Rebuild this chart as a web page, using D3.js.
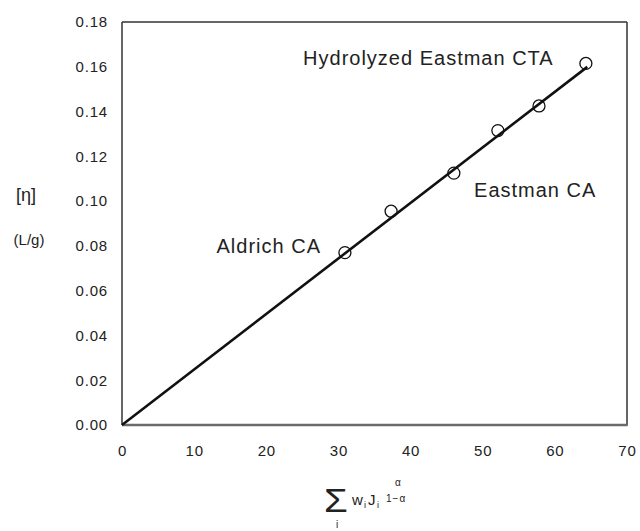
<!DOCTYPE html>
<html>
<head>
<meta charset="utf-8">
<script src="https://cdn.jsdelivr.net/npm/d3@7"></script>
<style>
  html, body { margin: 0; padding: 0; background: #fff; }
  svg { display: block; font-family: "Liberation Sans", Arial, sans-serif; }
</style>
</head>
<body>
<svg id="chart" width="640" height="531"></svg>
<script>
// ---- data ----
const sumWJ = [30.9, 37.3, 46.0, 52.1, 57.8, 64.3];
const intrinsicVisc = [0.077, 0.0955, 0.1125, 0.1315, 0.1425, 0.1615];
const fitSlope = 0.00248;
const fitXRange = [0, 64.5];
const xTicks = [0, 10, 20, 30, 40, 50, 60, 70];
const yTicks = [0, 0.02, 0.04, 0.06, 0.08, 0.10, 0.12, 0.14, 0.16, 0.18];
const labelTexts = ["Hydrolyzed Eastman CTA", "Eastman CA", "Aldrich CA"];
const labelX = [25.1, 48.8, 13.1];
const labelY = [0.1608, 0.1018, 0.0768];

// ---- layout ----
const mLeft = 122, mRight = 627, mTop = 22, mBottom = 425;
const svg = d3.select("#chart");
const x = d3.scaleLinear().domain([0, 70]).range([mLeft, mRight]);
const y = d3.scaleLinear().domain([0, 0.18]).range([mBottom, mTop]);

// axes (labels only, no tick marks)
const xAxis = d3.axisBottom(x).tickValues(xTicks).tickSize(0).tickPadding(20).tickFormat(d3.format("d"));
const gx = svg.append("g").attr("transform", `translate(0,${mBottom})`).call(xAxis);
gx.select(".domain").remove();
gx.selectAll("text").attr("font-size", 15).attr("fill", "#222")
  .attr("font-family", "Liberation Sans, Arial, sans-serif").attr("letter-spacing", "0.8px");

const yAxis = d3.axisLeft(y).tickValues(yTicks).tickSize(0).tickPadding(14).tickFormat(d3.format(".2f"));
const gy = svg.append("g").attr("transform", `translate(${mLeft},0)`).call(yAxis);
gy.select(".domain").remove();
gy.selectAll("text").attr("font-size", 15).attr("fill", "#222")
  .attr("font-family", "Liberation Sans, Arial, sans-serif").attr("letter-spacing", "0.8px");

// frame
svg.append("line").attr("x1", mLeft).attr("x2", mRight).attr("y1", mTop).attr("y2", mTop)
  .attr("stroke", "#333").attr("stroke-width", 1.5);
svg.append("line").attr("x1", mLeft).attr("x2", mLeft).attr("y1", mTop).attr("y2", mBottom)
  .attr("stroke", "#333").attr("stroke-width", 1.5);
svg.append("line").attr("x1", mRight).attr("x2", mRight).attr("y1", mTop).attr("y2", mBottom)
  .attr("stroke", "#333").attr("stroke-width", 1.5);
svg.append("line").attr("x1", mLeft).attr("x2", mRight + 0.75).attr("y1", mBottom).attr("y2", mBottom)
  .attr("stroke", "#6a6a6a").attr("stroke-width", 2.5);

// fit line
svg.append("line")
  .attr("x1", x(fitXRange[0])).attr("y1", y(fitSlope * fitXRange[0]))
  .attr("x2", x(fitXRange[1])).attr("y2", y(fitSlope * fitXRange[1]))
  .attr("stroke", "#111").attr("stroke-width", 2.6);

// points
svg.append("g").selectAll("circle")
  .data(sumWJ.map((d, i) => [d, intrinsicVisc[i]]))
  .join("circle")
  .attr("cx", d => x(d[0])).attr("cy", d => y(d[1])).attr("r", 6)
  .attr("fill", "none").attr("stroke", "#111").attr("stroke-width", 1.3);

// annotations
svg.append("g").selectAll("text")
  .data(labelTexts.map((t, i) => ({t, x: labelX[i], y: labelY[i]})))
  .join("text")
  .attr("x", d => x(d.x)).attr("y", d => y(d.y))
  .attr("font-size", 20).attr("letter-spacing", "1px").attr("fill", "#222")
  .text(d => d.t);

// y label
svg.append("text").attr("x", 26).attr("y", 201).attr("text-anchor", "middle")
  .attr("font-size", 18).attr("fill", "#222").text("[η]");
svg.append("text").attr("x", 29).attr("y", 245).attr("text-anchor", "middle")
  .attr("font-size", 15).attr("fill", "#222").text("(L/g)");

// x label: Σ_i w_i J_i^(1-α)^α
const xl = svg.append("g").attr("fill", "#222");
xl.append("text").attr("x", 324).attr("y", 512).attr("font-size", 32)
  .attr("transform", "translate(324,512) scale(1.2,1.05) translate(-324,-512)").text("Σ");
xl.append("text").attr("x", 337).attr("y", 528).attr("text-anchor", "middle").attr("font-size", 10).text("i");
xl.append("text").attr("x", 352).attr("y", 505).attr("font-size", 15).text("w");
xl.append("text").attr("x", 364).attr("y", 508).attr("font-size", 9).text("i");
xl.append("text").attr("x", 368).attr("y", 505).attr("font-size", 15).text("J");
xl.append("text").attr("x", 377).attr("y", 508).attr("font-size", 9).text("i");
xl.append("text").attr("x", 386).attr("y", 502).attr("font-size", 10).attr("letter-spacing", "1px").text("1−α");
xl.append("text").attr("x", 395).attr("y", 486).attr("font-size", 10).text("α");
</script>
</body>
</html>
